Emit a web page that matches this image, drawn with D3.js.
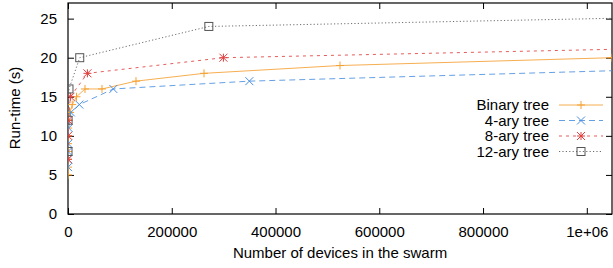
<!DOCTYPE html>
<html>
<head>
<meta charset="utf-8">
<script src="https://cdn.jsdelivr.net/npm/d3@7"></script>
<style>
  body { margin: 0; background: #fff; }
  text { font-family: "Liberation Sans", Arial, sans-serif; fill: #000; }
</style>
</head>
<body>
<svg id="chart" width="613" height="268"></svg>
<script>
// swarm sizes (complete k-ary trees) and measured run-times
var binaryX = [3, 7, 15, 31, 63, 127, 255, 511, 1023, 2047, 4095, 8191, 16383, 32767, 65535, 131071, 262143, 524287, 1048575];
var binaryY = [5, 6, 7, 8, 9, 10, 11, 12, 12, 13, 13, 14, 15, 16, 16, 17, 18, 19, 20];
var quadX = [5, 21, 85, 341, 1365, 5461, 21845, 87381, 349525, 1398101];
var quadY = [6, 7, 8, 9, 11, 13, 14, 16, 17, 19];
var octX = [9, 73, 585, 4681, 37449, 299593, 2396745];
var octY = [7, 10, 12, 15, 18, 20, 23];
var dodX = [13, 157, 1885, 22621, 271453, 3257437];
var dodY = [8, 12, 16, 20, 24, 28];

var seriesNames = ["Binary tree", "4-ary tree", "8-ary tree", "12-ary tree"];
var xTicks = [0, 200000, 400000, 600000, 800000, 1000000];
var yTicks = [0, 5, 10, 15, 20, 25];

function zip(xs, ys) { return xs.map(function (x, i) { return [x, ys[i]]; }); }

var series = [
    {name: seriesNames[0], pts: zip(binaryX, binaryY), color: "#f5a033", dash: null, mark: "plus"},
    {name: seriesNames[1], pts: zip(quadX, quadY), color: "#4a8fdf", dash: "6,4", mark: "cross"},
    {name: seriesNames[2], pts: zip(octX, octY), color: "#e0403f", dash: "3,4", mark: "star"},
    {name: seriesNames[3], pts: zip(dodX, dodY), color: "#555555", dash: "1.2,2.2", mark: "square"}
];

var svg = d3.select("#chart");
var m = {left: 68, right: 612, top: 3, bottom: 214};

var x = d3.scaleLinear().domain([0, 1048576]).range([m.left, m.right]);
var y = d3.scaleLinear().domain([0, 27]).range([m.bottom, m.top]);

svg.append("clipPath").attr("id", "plotclip")
    .append("rect").attr("x", m.left).attr("y", m.top)
    .attr("width", m.right - m.left).attr("height", m.bottom - m.top);

// axes, gnuplot style: inward ticks mirrored on the opposite side
var xAxis = d3.axisBottom(x).tickValues(xTicks).tickSizeInner(-6).tickSizeOuter(0).tickPadding(12)
    .tickFormat(function (d) { return d === 1000000 ? "1e+06" : d3.format("d")(d); });
var yAxis = d3.axisLeft(y).tickValues(yTicks).tickSizeInner(-6).tickSizeOuter(0).tickPadding(11);

var gx = svg.append("g").attr("transform", "translate(0," + m.bottom + ")").call(xAxis);
var gy = svg.append("g").attr("transform", "translate(" + m.left + ",0)").call(yAxis);
svg.append("g").attr("transform", "translate(0," + m.top + ")")
    .call(d3.axisTop(x).tickValues(xTicks).tickSizeInner(-6).tickSizeOuter(0).tickFormat(""));
svg.append("g").attr("transform", "translate(" + m.right + ",0)")
    .call(d3.axisRight(y).tickValues(yTicks).tickSizeInner(-6).tickSizeOuter(0).tickFormat(""));

svg.selectAll(".domain").remove();
svg.selectAll(".tick line").attr("stroke", "#000").attr("stroke-width", 1);
[gx, gy].forEach(function (g) {
    g.selectAll("text").style("font-size", "15px").style("font-family", "Liberation Sans, Arial, sans-serif").attr("fill", "#000");
});

svg.append("rect").attr("x", m.left).attr("y", m.top)
    .attr("width", m.right - m.left).attr("height", m.bottom - m.top)
    .attr("fill", "none").attr("stroke", "#000").attr("stroke-width", 1.2);

// axis titles
svg.append("text").attr("x", (m.left + m.right) / 2).attr("y", 258)
    .attr("text-anchor", "middle").style("font-size", "15px")
    .text("Number of devices in the swarm");
svg.append("text").attr("transform", "translate(20,108) rotate(-90)")
    .attr("text-anchor", "middle").style("font-size", "15px")
    .text("Run-time (s)");

function drawMark(g, type, color) {
    var s = 4;
    if (type === "plus" || type === "star") {
        g.append("line").attr("x1", -s).attr("x2", s).attr("y1", 0).attr("y2", 0);
        g.append("line").attr("x1", 0).attr("x2", 0).attr("y1", -s).attr("y2", s);
    }
    if (type === "cross" || type === "star") {
        g.append("line").attr("x1", -s).attr("x2", s).attr("y1", -s).attr("y2", s);
        g.append("line").attr("x1", -s).attr("x2", s).attr("y1", s).attr("y2", -s);
    }
    if (type === "square") {
        g.append("rect").attr("x", -s).attr("y", -s).attr("width", 2 * s).attr("height", 2 * s)
            .attr("fill", "none");
    }
    g.selectAll("line, rect").attr("stroke", color).attr("stroke-width", 1);
}

var line = d3.line().x(function (d) { return x(d[0]); }).y(function (d) { return y(d[1]); });
var plot = svg.append("g").attr("clip-path", "url(#plotclip)");

series.forEach(function (s) {
    plot.append("path").datum(s.pts).attr("d", line)
        .attr("fill", "none").attr("stroke", s.color).attr("stroke-width", 1)
        .attr("stroke-opacity", 0.85)
        .attr("stroke-dasharray", s.dash);
    s.pts.forEach(function (p) {
        if (p[0] > 1048576) return;
        var g = plot.append("g").attr("transform", "translate(" + x(p[0]) + "," + y(p[1]) + ")");
        drawMark(g, s.mark, s.color);
    });
});

// legend
var legend = svg.append("g");
series.forEach(function (s, i) {
    var ly = 105 + i * 15.5;
    legend.append("text").attr("x", 549).attr("y", ly + 5)
        .attr("text-anchor", "end").style("font-size", "15px").text(s.name);
    legend.append("line").attr("x1", 559).attr("x2", 603).attr("y1", ly).attr("y2", ly)
        .attr("stroke", s.color).attr("stroke-width", 1).attr("stroke-opacity", 0.85)
        .attr("stroke-dasharray", s.dash);
    var g = legend.append("g").attr("transform", "translate(581," + ly + ")");
    drawMark(g, s.mark, s.color);
});
</script>
</body>
</html>
